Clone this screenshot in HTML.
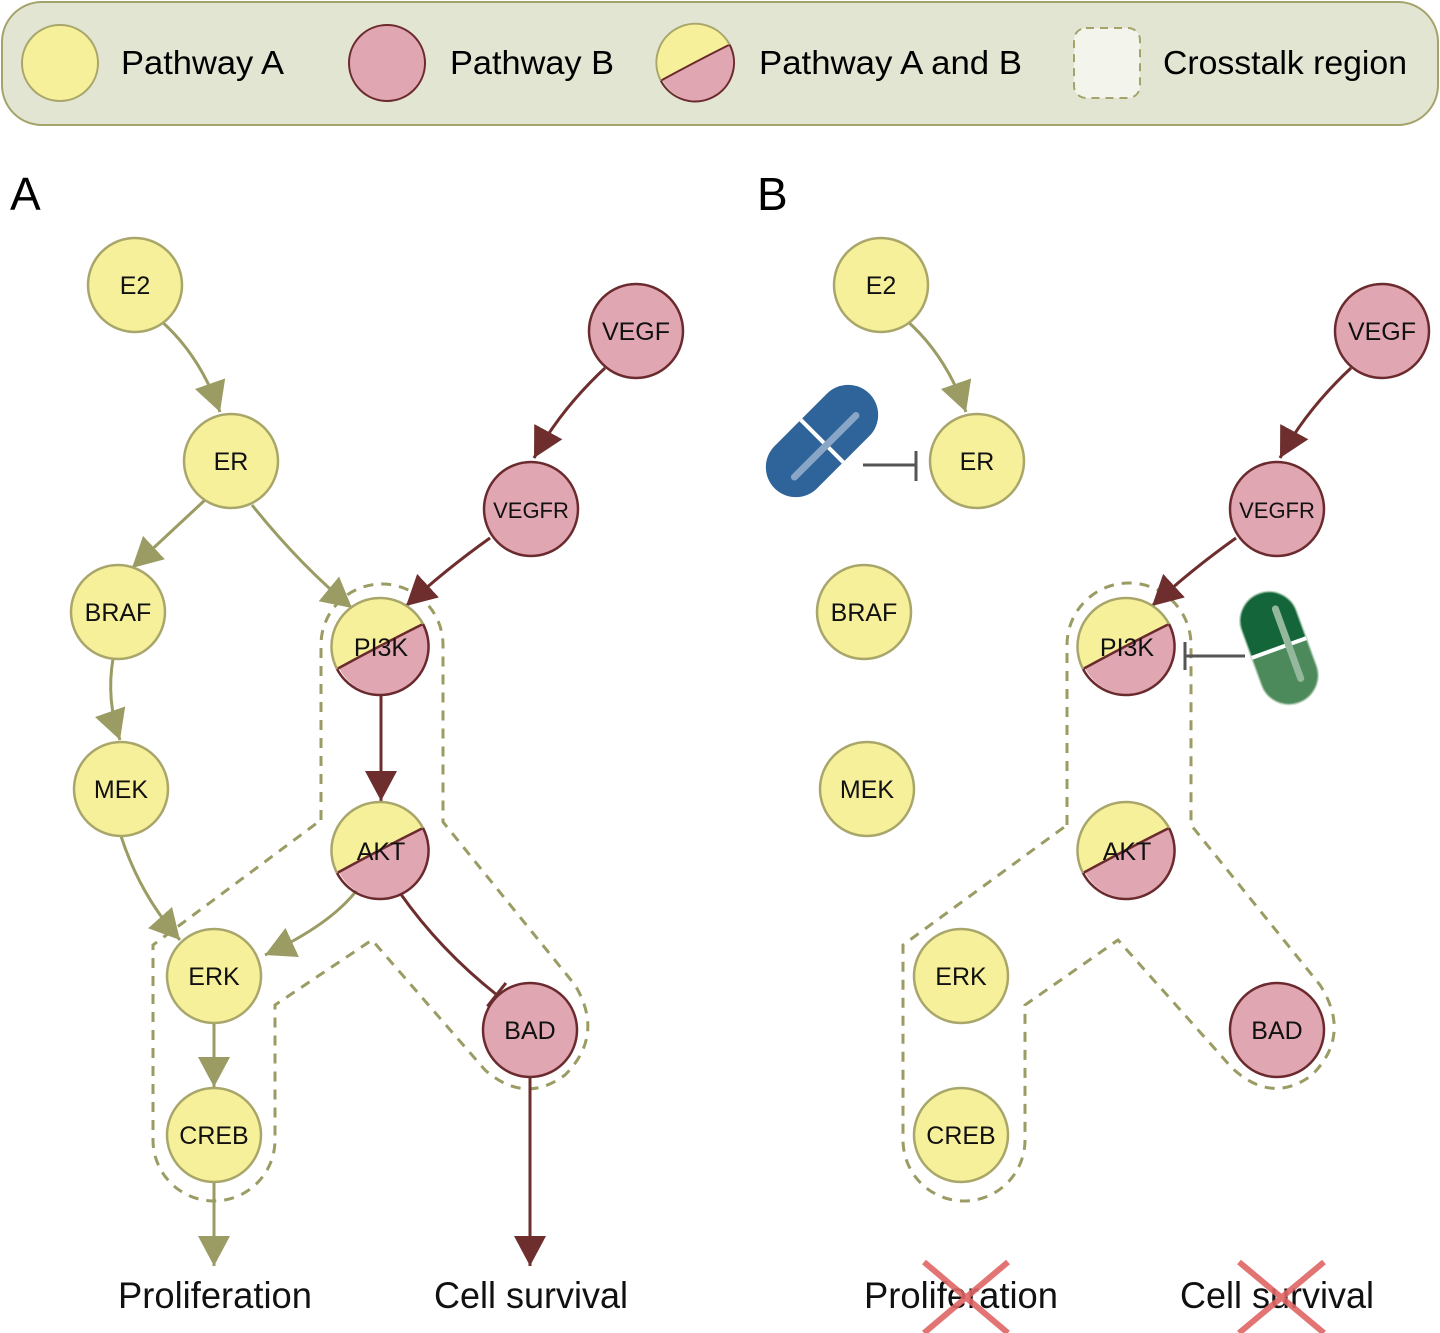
<!DOCTYPE html>
<html><head><meta charset="utf-8"><style>
html,body{margin:0;padding:0;background:#fff;}
svg{display:block;font-family:"Liberation Sans",sans-serif;}
</style></head><body>
<svg width="1440" height="1333" viewBox="0 0 1440 1333" xmlns="http://www.w3.org/2000/svg">
<defs>
<marker id="ao" markerUnits="userSpaceOnUse" markerWidth="34" markerHeight="34" refX="30" refY="16" orient="auto"><path d="M0,0 L30,16 L0,32 z" fill="#9b9b64"/></marker>
<marker id="ar" markerUnits="userSpaceOnUse" markerWidth="34" markerHeight="34" refX="30" refY="16" orient="auto"><path d="M0,0 L30,16 L0,32 z" fill="#6e2e2e"/></marker>
<marker id="tr" markerUnits="userSpaceOnUse" markerWidth="6" markerHeight="30" refX="3" refY="15" orient="auto"><rect x="1" y="0" width="3" height="30" fill="#6e2e2e"/></marker>
<g id="dual">
<circle cx="0" cy="0" r="47" fill="#e0a6b2"/>
<path d="M-44,22 Q0,-2 42,-23 A47 47 0 0 0 -44,22 z" fill="#f7f09a"/>
<path d="M-44,22 Q0,-2 42,-23" fill="none" stroke="#6b2b2e" stroke-width="2.5"/>
<path d="M42,-23 A47 47 0 1 1 -44,22" fill="none" stroke="#6b2b2e" stroke-width="2.5"/>
<path d="M-44,22 A47 47 0 0 1 42,-23" fill="none" stroke="#a8a66a" stroke-width="2.5"/>
</g>
</defs>

<!-- legend -->
<rect x="2" y="2" width="1436" height="123" rx="40" fill="#e3e5d3" stroke="#a4a36b" stroke-width="2"/>
<circle cx="60" cy="63" r="38" fill="#f7f09a" stroke="#a8a66a" stroke-width="2"/>
<text x="121" y="74" font-size="33" textLength="163" lengthAdjust="spacingAndGlyphs">Pathway A</text>
<circle cx="387" cy="63" r="38" fill="#e0a6b2" stroke="#6b2b2e" stroke-width="2"/>
<text x="450" y="74" font-size="33" textLength="164" lengthAdjust="spacingAndGlyphs">Pathway B</text>
<use href="#dual" transform="translate(696,63) scale(0.8)"/>
<text x="759" y="74" font-size="33" textLength="263" lengthAdjust="spacingAndGlyphs">Pathway A and B</text>
<rect x="1074" y="28" width="66" height="70" rx="12" fill="#f3f4ec" stroke="#a4a36b" stroke-width="2" stroke-dasharray="8,6"/>
<text x="1163" y="74" font-size="33" textLength="244" lengthAdjust="spacingAndGlyphs">Crosstalk region</text>

<text x="10" y="210" font-size="46">A</text>
<text x="757" y="210" font-size="46">B</text>

<!-- crosstalk regions -->
<g fill="none" stroke="#9b9b64" stroke-width="3" stroke-dasharray="10,8">
<path d="M321 820 L321 645 A61 61 0 0 1 443 645 L443 822 L575 985 Q605 1035 565 1075 Q525 1105 485 1070 L372 940 L275 1005 L275 1140 A61 61 0 0 1 153 1140 L153 945 Z"/>
<path d="M1067 825 L1067 645 A62 62 0 0 1 1191 645 L1191 825 L1320 985 Q1352 1035 1312 1075 Q1272 1105 1232 1068 L1118 940 L1025 1005 L1025 1140 A61 61 0 0 1 903 1140 L903 945 Z"/>
</g>

<!-- edges A -->
<g fill="none" stroke-width="3">
<path d="M160 320 Q200 355 220 412" stroke="#9b9b64" marker-end="url(#ao)"/>
<path d="M205 500 L132 568" stroke="#9b9b64" marker-end="url(#ao)"/>
<path d="M252 505 Q300 565 352 608" stroke="#9b9b64" marker-end="url(#ao)"/>
<path d="M605 368 Q560 410 534 458" stroke="#6e2e2e" marker-end="url(#ar)"/>
<path d="M490 538 Q445 570 406 606" stroke="#6e2e2e" marker-end="url(#ar)"/>
<path d="M113 659 Q106 700 120 740" stroke="#9b9b64" marker-end="url(#ao)"/>
<path d="M381 694 L381 801" stroke="#6e2e2e" marker-end="url(#ar)"/>
<path d="M121 836 Q140 895 180 940" stroke="#9b9b64" marker-end="url(#ao)"/>
<path d="M357 890 Q330 925 265 955" stroke="#9b9b64" marker-end="url(#ao)"/>
<path d="M400 893 Q440 950 497 995" stroke="#6e2e2e" marker-end="url(#tr)"/>
<path d="M214 1023 L214 1087" stroke="#9b9b64" marker-end="url(#ao)"/>
<path d="M214 1183 L214 1266" stroke="#9b9b64" marker-end="url(#ao)"/>
<path d="M530 1077 L530 1266" stroke="#6e2e2e" marker-end="url(#ar)"/>
<!-- edges B -->
<path d="M906 320 Q946 355 966 412" stroke="#9b9b64" marker-end="url(#ao)"/>
<path d="M1351 368 Q1306 410 1280 458" stroke="#6e2e2e" marker-end="url(#ar)"/>
<path d="M1236 538 Q1191 570 1152 606" stroke="#6e2e2e" marker-end="url(#ar)"/>
<!-- inhibitors -->
<path d="M863 465 L916 465 M916 451 L916 481" stroke="#555"/>
<path d="M1245 656 L1185 656 M1185 642 L1185 670" stroke="#555"/>
</g>

<!-- pills -->
<g transform="translate(822,441) rotate(-45)">
<rect x="-67" y="-30" width="134" height="60" rx="30" fill="#2e6499"/>
<line x1="0" y1="-30" x2="0" y2="30" stroke="#fff" stroke-width="4"/>
<line x1="-45" y1="6" x2="42" y2="6" stroke="#8aa6c6" stroke-width="7" stroke-linecap="round"/>
</g>
<g transform="translate(1279,648) rotate(-20)">
<clipPath id="gp"><rect x="-29" y="-58" width="58" height="116" rx="29"/></clipPath>
<g clip-path="url(#gp)">
<rect x="-29" y="-58" width="58" height="58" fill="#14663a"/>
<rect x="-29" y="0" width="58" height="58" fill="#4d8a5b"/>
</g>
<rect x="-29" y="-58" width="58" height="116" rx="29" fill="none" stroke="#9cc0a4" stroke-width="2" opacity="0.6"/>
<line x1="-29" y1="0" x2="29" y2="0" stroke="#fff" stroke-width="4"/>
<line x1="10" y1="-38" x2="10" y2="36" stroke="#93b89c" stroke-width="7" stroke-linecap="round"/>
</g>

<!-- nodes -->
<g font-size="25" text-anchor="middle" stroke-width="2.5">
<g fill="#f7f09a" stroke="#a8a66a">
<circle cx="135" cy="285" r="47"/><circle cx="231" cy="461" r="47"/><circle cx="118" cy="612" r="47"/><circle cx="121" cy="789" r="47"/><circle cx="214" cy="976" r="47"/><circle cx="214" cy="1135" r="47"/>
<circle cx="881" cy="285" r="47"/><circle cx="977" cy="461" r="47"/><circle cx="864" cy="612" r="47"/><circle cx="867" cy="789" r="47"/><circle cx="961" cy="976" r="47"/><circle cx="961" cy="1135" r="47"/>
</g>
<g fill="#e0a6b2" stroke="#6b2b2e">
<circle cx="636" cy="331" r="47"/><circle cx="531" cy="509" r="47"/><circle cx="530" cy="1030" r="47"/>
<circle cx="1382" cy="331" r="47"/><circle cx="1277" cy="509" r="47"/><circle cx="1277" cy="1030" r="47"/>
</g>
<use href="#dual" x="381" y="647"/><use href="#dual" x="381" y="851"/>
<use href="#dual" x="1127" y="647"/><use href="#dual" x="1127" y="851"/>
<g fill="#111" stroke="none">
<text x="135" y="294">E2</text><text x="231" y="470">ER</text><text x="118" y="621">BRAF</text><text x="121" y="798">MEK</text><text x="214" y="985">ERK</text><text x="214" y="1144">CREB</text>
<text x="636" y="340">VEGF</text><text x="531" y="518" font-size="22">VEGFR</text><text x="530" y="1039">BAD</text><text x="381" y="656">PI3K</text><text x="381" y="860">AKT</text>
<text x="881" y="294">E2</text><text x="977" y="470">ER</text><text x="864" y="621">BRAF</text><text x="867" y="798">MEK</text><text x="961" y="985">ERK</text><text x="961" y="1144">CREB</text>
<text x="1382" y="340">VEGF</text><text x="1277" y="518" font-size="22">VEGFR</text><text x="1277" y="1039">BAD</text><text x="1127" y="656">PI3K</text><text x="1127" y="860">AKT</text>
</g>
</g>

<g font-size="37" fill="#111" text-anchor="middle">
<text x="215" y="1308" textLength="194" lengthAdjust="spacingAndGlyphs">Proliferation</text>
<text x="531" y="1308" textLength="194" lengthAdjust="spacingAndGlyphs">Cell survival</text>
<text x="961" y="1308" textLength="194" lengthAdjust="spacingAndGlyphs">Proliferation</text>
<text x="1277" y="1308" textLength="194" lengthAdjust="spacingAndGlyphs">Cell survival</text>
</g>
<g stroke="#e06666" stroke-width="6" opacity="0.9">
<path d="M924 1262 L1008 1333 M1008 1262 L924 1333"/>
<path d="M1239 1262 L1324 1333 M1324 1262 L1239 1333"/>
</g>
</svg>
</body></html>
